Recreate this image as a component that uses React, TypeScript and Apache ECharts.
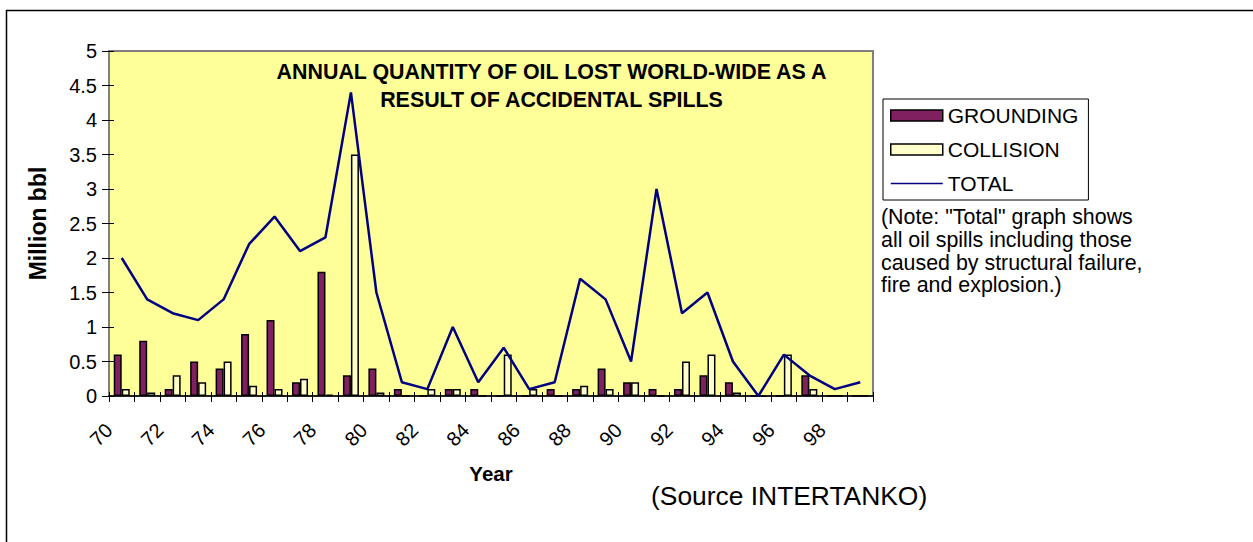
import React, { useEffect, useRef } from "react";
import * as echarts from "echarts";

const years = ["70","71","72","73","74","75","76","77","78","79","80","81","82","83","84","85","86","87","88","89","90","91","92","93","94","95","96","97","98","99"];
const grounding = [0.6,0.8,0.1,0.5,0.4,0.9,1.1,0.2,1.8,0.3,0.4,0.1,0,0.1,0.1,0,0,0.1,0.1,0.4,0.2,0.1,0.1,0.3,0.2,0,0,0.3,0,0];
const collision = [0.1,0.05,0.3,0.2,0.5,0.15,0.1,0.25,0.02,3.5,0.05,0,0.1,0.1,0,0.6,0.1,0,0.15,0.1,0.2,0,0.5,0.6,0.05,0,0.6,0.1,0,0];
const total = [2.0,1.4,1.2,1.1,1.4,2.2,2.6,2.1,2.3,4.4,1.5,0.2,0.1,1.0,0.2,0.7,0.1,0.2,1.7,1.4,0.5,3.0,1.2,1.5,0.5,0,0.6,0.3,0.1,0.2];

const titleLines = ["ANNUAL QUANTITY OF OIL LOST WORLD-WIDE AS A", "RESULT OF ACCIDENTAL SPILLS"];
const noteLines = ["(Note: \"Total\" graph shows", "all oil spills including those", "caused by structural failure,", "fire and explosion.)"];
const sourceText = "(Source INTERTANKO)";

const FONT = "'Liberation Sans', Arial, Helvetica, sans-serif";

export default function App() {
  const ref = useRef<HTMLDivElement>(null);
  useEffect(() => {
    if (!ref.current) return;
    const chart = echarts.init(ref.current, undefined, { renderer: "svg" });
    const yCommon = { type: "value", min: 0, max: 5, interval: 0.5, splitLine: { show: false } };
    chart.setOption({
      animation: false,
      backgroundColor: "#ffffff",
      textStyle: { fontFamily: FONT, color: "#000" },
      grid: {
        left: 109, top: 51, right: 380, bottom: 146,
        show: true, backgroundColor: "#FFFF99", borderColor: "#808080", borderWidth: 2,
      },
      legend: {
        orient: "vertical", left: 883, top: 99,
        padding: [6, 10, 6, 7], itemGap: 13, itemWidth: 52, itemHeight: 11,
        borderColor: "#000", borderWidth: 1, backgroundColor: "#fff",
        textStyle: { fontSize: 21, color: "#000", fontFamily: FONT },
        data: [
          { name: "GROUNDING", icon: "rect", itemStyle: { color: "#802060", borderColor: "#000", borderWidth: 1.5 } },
          { name: "COLLISION", icon: "rect", itemStyle: { color: "#FFFFCC", borderColor: "#000", borderWidth: 1.5 } },
          { name: "TOTAL", icon: "path://M0,0L100,0L100,3L0,3Z", itemStyle: { color: "#000080", borderWidth: 0 } },
        ],
      },
      xAxis: [
        {
          type: "category", data: years, boundaryGap: true,
          name: "Year", nameLocation: "middle", nameGap: 67,
          nameTextStyle: { fontSize: 20.5, fontWeight: "bold", color: "#000", fontFamily: FONT },
          axisLine: { lineStyle: { color: "#000", width: 1.5 } },
          axisTick: { show: true, interval: 0, length: 6, lineStyle: { color: "#000" } },
          axisLabel: { interval: 1, rotate: 45, margin: 18, padding: [0, 18, 0, 0], fontSize: 20, color: "#000", fontFamily: FONT },
        },
        {
          type: "category", data: years, boundaryGap: true, position: "bottom",
          axisLine: { show: false },
          axisTick: { show: true, inside: true, interval: 0, length: 4, lineStyle: { color: "#000" } },
          axisLabel: { show: false },
        },
      ],
      yAxis: [
        {
          ...yCommon,
          name: "Million bbl", nameLocation: "middle", nameGap: 60, nameRotate: 90,
          nameTextStyle: { fontSize: 23, fontWeight: "bold", color: "#000", fontFamily: FONT },
          axisLine: { show: true, lineStyle: { color: "#808080", width: 2 } },
          axisTick: { show: true, length: 7, lineStyle: { color: "#000" } },
          axisLabel: { margin: 12, fontSize: 20, color: "#000", fontFamily: FONT },
        },
        {
          ...yCommon, position: "left",
          axisLine: { show: false },
          axisTick: { show: true, inside: true, length: 5, lineStyle: { color: "#000" } },
          axisLabel: { show: false },
        },
      ],
      series: [
        {
          name: "GROUNDING", type: "bar", data: grounding, barWidth: 8, barGap: "0%",
          itemStyle: { color: "#802060", borderColor: "#000", borderWidth: 1.5 },
        },
        {
          name: "COLLISION", type: "bar", data: collision, barWidth: 8, barGap: "0%",
          itemStyle: { color: "#FFFFCC", borderColor: "#000", borderWidth: 1.5 },
        },
        {
          name: "TOTAL", type: "line", data: total, symbol: "none",
          lineStyle: { color: "#000080", width: 2.5 }, itemStyle: { color: "#000080" },
        },
      ],
      graphic: [
        {
          type: "rect", silent: true, z: -10,
          shape: { x: 6.5, y: 10.5, width: 1400, height: 700 },
          style: { fill: "none", stroke: "#000", lineWidth: 1.5 },
        },
        {
          type: "text", z: 100,
          style: {
            x: 551.5, y: 58, text: titleLines.join("\n"), fontSize: 21.4, fontWeight: "bold",
            lineHeight: 28, align: "center", verticalAlign: "top", fill: "#000", fontFamily: FONT,
          },
        },
        {
          type: "text", z: 100,
          style: {
            x: 881, y: 206, text: noteLines.join("\n"), fontSize: 21.4, lineHeight: 22.6,
            align: "left", verticalAlign: "top", fill: "#000", fontFamily: FONT,
          },
        },
        {
          type: "text", z: 100,
          style: {
            x: 651, y: 496, text: sourceText, fontSize: 26.4, align: "left", verticalAlign: "middle",
            fill: "#000", fontFamily: FONT,
          },
        },
      ],
    });
    return () => chart.dispose();
  }, []);
  return <div ref={ref} style={{ position: "absolute", left: 0, top: 0, width: 1253, height: 542 }} />;
}
